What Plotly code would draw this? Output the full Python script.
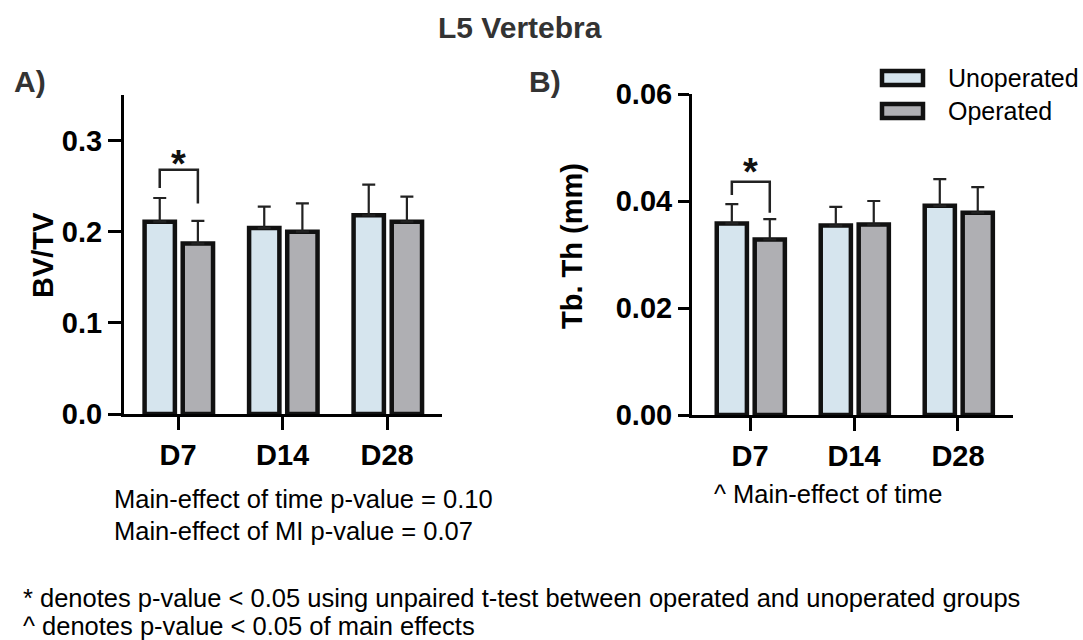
import plotly.graph_objects as go

W, H = 1083, 640

# ---- data ----
days = ["D7", "D14", "D28"]
series_names = ["Unoperated", "Operated"]

bvtv_unop = [0.211, 0.204, 0.218]
bvtv_unop_sem = [0.026, 0.0235, 0.0336]
bvtv_op = [0.187, 0.200, 0.211]
bvtv_op_sem = [0.025, 0.031, 0.0275]

tbth_unop = [0.0358, 0.0354, 0.0391]
tbth_unop_sem = [0.0036, 0.0035, 0.0050]
tbth_op = [0.0328, 0.0356, 0.0378]
tbth_op_sem = [0.0038, 0.0044, 0.0048]

# significance bracket for D7 (left end, top, right end)
bvtv_bracket = [0.248, 0.268, 0.231]
tbth_bracket = [0.0411, 0.0436, 0.0378]
bvtv_star_y = 0.281
tbth_star_y = 0.0465

bvtv_ticks = [0.0, 0.1, 0.2, 0.3]
bvtv_ticktext = ["0.0", "0.1", "0.2", "0.3"]
tbth_ticks = [0.0, 0.02, 0.04, 0.06]
tbth_ticktext = ["0.00", "0.02", "0.04", "0.06"]

# ---- styling ----
FONT = "Liberation Sans, Arial, Helvetica, sans-serif"
UNOP_FILL = "#d6e5ee"
OP_FILL = "#afafb3"
EDGE = "#111111"
BAR_W = 0.29
OFFSETS = [-0.32, 0.045]
CENTERS = [o + BAR_W / 2 for o in OFFSETS]


def px(x):
    return x / W


def py(y):
    return 1 - y / H


fig = go.Figure()

x_idx = list(range(len(days)))
panels = [
    ("x", "y", bvtv_unop, bvtv_unop_sem, bvtv_op, bvtv_op_sem),
    ("x2", "y2", tbth_unop, tbth_unop_sem, tbth_op, tbth_op_sem),
]
for xa, ya, u, us, o, os_ in panels:
    for k, (vals, errs, fill) in enumerate([(u, us, UNOP_FILL), (o, os_, OP_FILL)]):
        fig.add_trace(go.Bar(
            x=x_idx, y=vals, xaxis=xa, yaxis=ya,
            name=series_names[k], showlegend=False,
            offset=OFFSETS[k], width=BAR_W,
            marker=dict(color=fill, line=dict(color=EDGE, width=4.5)),
            error_y=dict(type="data", symmetric=False, array=errs,
                         arrayminus=[0] * len(errs),
                         color="#222222", thickness=2.2, width=6.5),
        ))

# significance brackets
for xa, ya, br in [("x", "y", bvtv_bracket), ("x2", "y2", tbth_bracket)]:
    fig.add_trace(go.Scatter(
        x=[CENTERS[0], CENTERS[0], CENTERS[1], CENTERS[1]],
        y=[br[0], br[1], br[1], br[2]],
        xaxis=xa, yaxis=ya, mode="lines", showlegend=False,
        line=dict(color="#222222", width=2.5), hoverinfo="skip",
    ))

tick_font = dict(family=FONT, size=29, color="#000000", weight="bold")
axis_common = dict(
    showline=True, linecolor="#000000", linewidth=3,
    ticks="outside", tickcolor="#000000", tickwidth=3,
    showgrid=False, zeroline=False, fixedrange=True, automargin=False,
    tickfont=tick_font,
)

fig.update_layout(
    width=W, height=H, autosize=False,
    margin=dict(l=0, r=0, t=0, b=0, pad=0, autoexpand=False),
    paper_bgcolor="white", plot_bgcolor="white",
    barmode="overlay",
    showlegend=False,
    xaxis=dict(domain=[px(124), px(442)], range=[-0.517, 2.526],
               tickvals=x_idx, ticktext=days, ticklen=13, anchor="y",
               **axis_common),
    yaxis=dict(domain=[py(414), py(95)], range=[0, 0.35],
               tickvals=bvtv_ticks, ticktext=bvtv_ticktext, ticklen=13,
               anchor="x", **axis_common),
    xaxis2=dict(domain=[px(692), px(1013)], range=[-0.558, 2.529],
                tickvals=x_idx, ticktext=days, ticklen=13, anchor="y2",
                **axis_common),
    yaxis2=dict(domain=[py(415), py(94)], range=[0, 0.06],
                tickvals=tbth_ticks, ticktext=tbth_ticktext, ticklen=11,
                anchor="x2", **axis_common),
)

ann = []


def text(x, y, s, size, bold=False, color="#000000", xanchor="center",
         yanchor="middle", angle=0):
    ann.append(dict(
        x=px(x), y=py(y), xref="paper", yref="paper", text=s,
        showarrow=False, xanchor=xanchor, yanchor=yanchor, textangle=angle,
        font=dict(family=FONT, size=size, color=color,
                  weight="bold" if bold else "normal"),
    ))


text(520, 27, "L5 Vertebra", 30, bold=True, color="#333333")
text(12, 81, "A)", 30, bold=True, color="#333333", xanchor="left")
text(527, 81, "B)", 30, bold=True, color="#333333", xanchor="left")
text(43, 255, "BV/TV", 29, bold=True, angle=-90)
text(572, 246, "Tb. Th (mm)", 29, bold=True, angle=-90)

# stars above the D7 brackets
for xr, yr, ys in [("x", "y", bvtv_star_y), ("x2", "y2", tbth_star_y)]:
    ann.append(dict(
        x=0, y=ys, xref=xr, yref=yr, text="*", showarrow=False,
        xanchor="center", yanchor="middle", yshift=-6,
        font=dict(family=FONT, size=38, color="#111111", weight="bold"),
    ))

# legend
legend_rows = [(UNOP_FILL, 78, series_names[0]), (OP_FILL, 111, series_names[1])]
shapes = []
for fill, yc, label in legend_rows:
    shapes.append(dict(
        type="rect", xref="paper", yref="paper",
        x0=px(882), x1=px(923), y0=py(yc + 7), y1=py(yc - 7),
        fillcolor=fill, line=dict(color=EDGE, width=4.5),
    ))
    text(946, yc, label, 25, xanchor="left")

text(112, 499, "Main-effect of time p-value = 0.10", 25.5, xanchor="left")
text(112, 531, "Main-effect of MI p-value = 0.07", 25.5, xanchor="left")
text(712, 494, "^ Main-effect of time", 25.5, xanchor="left")
text(21, 598, "* denotes p-value < 0.05 using unpaired t-test between operated and unoperated groups",
     25.5, xanchor="left")
text(21, 626, "^ denotes p-value < 0.05 of main effects", 25.5, xanchor="left")

fig.update_layout(annotations=ann, shapes=shapes)

fig.write_html("out.html", config={"displayModeBar": False})
